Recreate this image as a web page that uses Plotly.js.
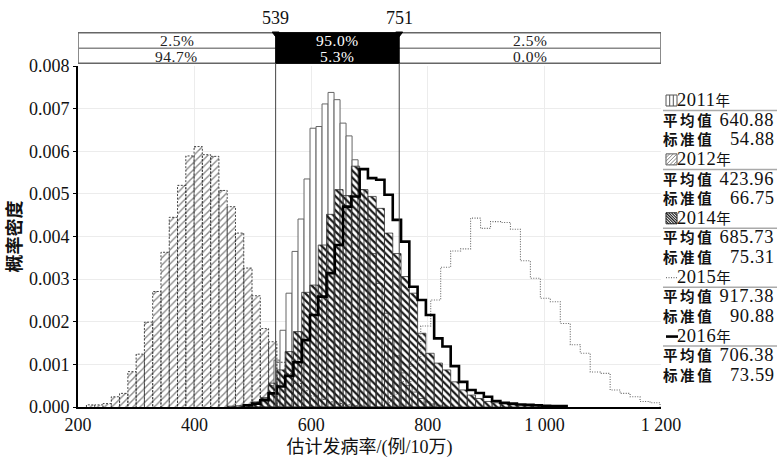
<!DOCTYPE html>
<html><head><meta charset="utf-8">
<script src="https://cdn.plot.ly/plotly-3.0.1.min.js"></script>
<style>html,body{margin:0;padding:0;background:#fff}</style>
</head><body><div id="chart" style="width:779px;height:461px"></div>
<script>
// ---------------- DATA ----------------
const binStart2012 = 214.5, binWidth2012 = 14.2;
const dens2012 = [0.00005,0.00005,0.00008,0.00024,0.00032,0.00083,0.00124,0.00199,0.00271,0.00363,
  0.00445,0.00520,0.00589,0.00611,0.00592,0.00588,0.00508,0.00470,0.00408,0.00326,
  0.00261,0.00184,0.00153,0.00105,0.00078,0.00055,0.00038,0.00026,0.00018,0.00012,
  0.00008,0.00005,0.00003,0.00002];

const binStart2014 = 455.9, binWidth2014 = 14.2;
const dens2014 = [0.00002,0.00003,0.00006,0.00012,0.00022,0.00056,0.00087,0.00130,0.00177,0.00269,
  0.00286,0.00380,0.00452,0.00510,0.00496,0.00565,0.00510,0.00494,0.00466,0.00408,
  0.00360,0.00306,0.00267,0.00173,0.00126,0.00103,0.00087,0.00059,0.00040,0.00028,
  0.00020,0.00013,0.00010,0.00007,0.00005,0.00005,0.00004,0.00003,0.00003,0.00002,0.00002];

const binStart2016 = 484.3, binWidth2016 = 14.2;
const dens2016 = [0.00004,0.00008,0.00016,0.00032,0.00048,0.00073,0.00105,0.00157,0.00216,0.00259,
  0.00314,0.00380,0.00470,0.00494,0.00558,0.00537,0.00533,0.00498,0.00439,0.00388,
  0.00282,0.00251,0.00216,0.00161,0.00142,0.00096,0.00059,0.00040,0.00033,0.00024,
  0.00014,0.00010,0.00008,0.00006,0.00005,0.00004,0.00003,0.00002,0.00002];

const binStart2011 = 495.0, binWidth2011 = 10.3;
const dens2011 = [0.00005,0.00010,0.00020,0.00050,0.00110,0.00180,0.00267,0.00365,0.00441,0.00535,
  0.00654,0.00658,0.00711,0.00738,0.00721,0.00666,0.00636,0.00580,0.00510,0.00440,
  0.00360,0.00290,0.00220,0.00160,0.00120,0.00080,0.00050,0.00035,0.00020,0.00012,
  0.00007,0.00004,0.00002];

const binStart2015 = 719.5, binWidth2015 = 17.1;
const dens2015 = [0.00010,0.00030,0.00060,0.00110,0.00190,0.00251,0.00328,0.00366,0.00371,0.00443,
  0.00419,0.00435,0.00433,0.00417,0.00343,0.00302,0.00255,0.00247,0.00196,0.00146,
  0.00126,0.00082,0.00079,0.00040,0.00032,0.00024,0.00013,0.00010];

const legendYears = ["2011年","2012年","2014年","2015年","2016年"];
const legendMeans = [640.88, 423.96, 685.73, 917.38, 706.38];
const legendSDs   = [54.88, 66.75, 75.31, 90.88, 73.59];
const meanLabel = "平均值", sdLabel = "标准值";

const delimiters = [539, 751];
const bandTop = ["2.5%","95.0%","2.5%"];
const bandBottom = ["94.7%","5.3%","0.0%"];

const xTickVals = [200,400,600,800,1000,1200];
const xTickText = ["200","400","600","800","1 000","1 200"];
const yTickVals = [0,0.001,0.002,0.003,0.004,0.005,0.006,0.007,0.008];
const xRange = [200,1200];
const yRange = [0,0.008];

// ---------------- LAYOUT HELPERS ----------------
const W=779, H=461;
const M={l:78, r:118, t:66, b:54};
const PW=W-M.l-M.r, PH=H-M.t-M.b;
const pxX = px => (px-M.l)/PW;
const pxY = py => (H-M.b-py)/PH;
const serif = "Liberation Serif, Times New Roman, serif";
const cjk = "Noto Sans CJK SC, sans-serif";
const mixed = "Liberation Serif, Noto Sans CJK SC, serif";

function centers(start,w,vals){return vals.map((_,i)=>start+w*(i+0.5));}
function stepXY(start,w,vals){
  const xs=[start], ys=[0];
  vals.forEach((v,i)=>{xs.push(start+w*i); ys.push(v);});
  xs.push(start+w*vals.length); ys.push(vals[vals.length-1]);
  xs.push(start+w*vals.length); ys.push(0);
  return {xs,ys};
}
function outlineXY(start,w,vals){
  const xs=[], ys=[];
  vals.forEach((v,i)=>{const l=start+w*i, r=l+w; xs.push(l,l,r,r); ys.push(0,v,v,0);});
  return {xs,ys};
}

const traces=[];
traces.push({type:'bar', x:centers(binStart2012,binWidth2012,dens2012), y:dens2012, width:binWidth2012,
  marker:{color:'white', line:{width:0},
    pattern:{shape:'/', fgcolor:'#8a8a8a', bgcolor:'white', size:5, solidity:0.28, fillmode:'replace'}},
  showlegend:false, hoverinfo:'skip'});
traces.push({type:'bar', x:centers(binStart2011,binWidth2011,dens2011), y:dens2011, width:binWidth2011,
  marker:{color:'rgba(255,255,255,0.9)', line:{color:'#666', width:1}},
  showlegend:false, hoverinfo:'skip'});
traces.push({type:'bar', x:centers(binStart2014,binWidth2014,dens2014), y:dens2014, width:binWidth2014,
  marker:{color:'rgba(0,0,0,0)', line:{color:'#333', width:0.8},
    pattern:{shape:'\\', fgcolor:'#1a1a1a', bgcolor:'rgba(255,255,255,0)', size:5, solidity:0.45, fillmode:'replace'}},
  showlegend:false, hoverinfo:'skip'});
const o12=outlineXY(binStart2012,binWidth2012,dens2012);
traces.push({type:'scatter', mode:'lines', x:o12.xs, y:o12.ys,
  line:{color:'#333', width:0.9, dash:'2px,1.5px'}, showlegend:false, hoverinfo:'skip'});
const s15=stepXY(binStart2015,binWidth2015,dens2015);
traces.push({type:'scatter', mode:'lines', x:s15.xs, y:s15.ys, line:{color:'#666', width:1.1, dash:'1px,1.5px', shape:'hv'},
  showlegend:false, hoverinfo:'skip'});
const s16=stepXY(binStart2016,binWidth2016,dens2016);
traces.push({type:'scatter', mode:'lines', x:s16.xs, y:s16.ys, line:{color:'#000', width:2.6, shape:'hv'},
  showlegend:false, hoverinfo:'skip'});

// ---------------- BAND / SHAPES ----------------
const shapes=[], annotations=[];
const bTop=pxY(32.7), bMid=pxY(48.3), bBot=pxY(63.3);
shapes.push({type:'rect', xref:'x', yref:'paper', x0:xRange[0], x1:xRange[1], y0:bBot, y1:bTop,
  fillcolor:'white', line:{color:'#666', width:1.5}, layer:'above'});
shapes.push({type:'line', xref:'x', yref:'paper', x0:xRange[0], x1:xRange[1], y0:bMid, y1:bMid,
  line:{color:'#888', width:1.5}, layer:'above'});
shapes.push({type:'rect', xref:'x', yref:'paper', x0:delimiters[0], x1:delimiters[1], y0:bBot, y1:bTop,
  fillcolor:'black', line:{color:'black', width:1}, layer:'above'});
delimiters.forEach(d=>{
  shapes.push({type:'line', xref:'x', yref:'paper', x0:d, x1:d, y0:0, y1:bBot, line:{color:'#444', width:1}, layer:'above'});
  const hw=3.5/PW*(xRange[1]-xRange[0]), th=4/PH;
  shapes.push({type:'path', xref:'x', yref:'paper', path:`M ${d-hw} ${bTop+0.002} L ${d+hw} ${bTop+0.002} L ${d} ${bTop-th} Z`,
    fillcolor:'black', line:{color:'black', width:1}, layer:'above'});
  annotations.push({xref:'x', yref:'paper', x:d, y:pxY(18), text:String(d), showarrow:false,
    font:{family:serif, size:18, color:'#111'}, xanchor:'center', yanchor:'middle'});
});
const segs=[[xRange[0],delimiters[0]],[delimiters[0],delimiters[1]],[delimiters[1],xRange[1]]];
const bandTxt = t => `<span style="letter-spacing:0.5px">${t}</span>`;
segs.forEach((s,i)=>{
  const col = i===1 ? 'white' : '#222';
  annotations.push({xref:'x', yref:'paper', x:(s[0]+s[1])/2, y:pxY(40.0), text:bandTxt(bandTop[i]), showarrow:false,
    font:{family:serif, size:15.5, color:col}, xanchor:'center', yanchor:'middle', borderpad:0});
  annotations.push({xref:'x', yref:'paper', x:(s[0]+s[1])/2, y:pxY(56.3), text:bandTxt(bandBottom[i]), showarrow:false,
    font:{family:serif, size:15.5, color:col}, xanchor:'center', yanchor:'middle', borderpad:0});
});

// ---------------- LEGEND (one multi-line text block) ----------------
function pline(x0,y0,x1,y1,color,width,dash){
  shapes.push({type:'line', xref:'paper', yref:'paper', x0:pxX(x0), x1:pxX(x1), y0:pxY(y0), y1:pxY(y1),
    line:{color:color, width:width, dash:dash||'solid'}});
}
function prect(x0,y0,x1,y1,color){
  shapes.push({type:'rect', xref:'paper', yref:'paper', x0:pxX(x0), x1:pxX(x1), y0:pxY(y1), y1:pxY(y0),
    line:{color:color, width:1}, fillcolor:'white'});
}
const LF = 15.1;             // base font -> line pitch 1.3*LF
const pitch = 1.3*LF;
const firstY = 100;
const cj = t => `<span style="font-family:Noto Sans CJK SC;font-size:14.5px;font-weight:bold;letter-spacing:2.6px">${t}</span>`;
const num = t => `<span style="font-size:18.5px;letter-spacing:0.6px">${t}</span>`;
const lines=[];
legendYears.forEach((yr,i)=>{
  const by = firstY + 3*pitch*i;
  const ix0=666, ix1=677, iy0=by-5, iy1=by+6;
  if(i===0){
    prect(ix0,iy0,ix1,iy1,'#555');
    pline(ix0+3.7,iy0,ix0+3.7,iy1,'#555',1); pline(ix0+7.3,iy0,ix0+7.3,iy1,'#555',1);
  } else if(i===1){
    prect(ix0,iy0,ix1,iy1,'#555');
    [3.7,7.3].forEach(c=>{ pline(ix0,iy0+c,ix0+c,iy0,'#777',0.9); pline(ix0+c,iy1,ix1,iy0+c,'#777',0.9); });
    pline(ix0,iy1,ix1,iy0,'#777',0.9);
  } else if(i===2){
    prect(ix0,iy0,ix1,iy1,'#222');
    [0,2.75,5.5,8.25].forEach(o=>{ pline(ix0+o,iy0,ix1,iy1-o,'#222',1.1); pline(ix0,iy0+o,ix1-o,iy1,'#222',1.1); });
  } else if(i===3){
    pline(666,by+1,678,by+1,'#777',1.2,'1px,1.5px');
  } else {
    pline(666,by+1,678,by+1,'#000',2.6);
  }
  pline(663,by+10.5,777,by+10.5,'#aaa',1.5);
  const m = legendMeans[i].toFixed(2), s = legendSDs[i].toFixed(2);
  lines.push(`<span style="font-size:18.5px">   </span>${num(yr.replace('年',''))}<span style="font-family:Noto Sans CJK SC;font-size:14.5px">年</span>`);
  lines.push(`${cj(meanLabel)}${num(' '.repeat(1+2*(6-m.length))+m)}`);
  lines.push(`${cj(sdLabel)}${num(' '.repeat(1+2*(6-s.length))+s)}`);
});
annotations.push({xref:'paper', yref:'paper', x:pxX(662), y:pxY(firstY + pitch*(lines.length-1)/2),
  text:lines.join('<br>'), showarrow:false, align:'left', xanchor:'left', yanchor:'middle', borderpad:0,
  font:{family:serif, size:LF, color:'#111'}});

const layout={
  width:W, height:H, margin:M, paper_bgcolor:'white', plot_bgcolor:'white',
  barmode:'overlay', bargap:0, showlegend:false,
  xaxis:{range:xRange, tickvals:xTickVals, ticktext:xTickText, showgrid:true, gridcolor:'#ececec', gridwidth:1,
    zeroline:false, showline:true, linecolor:'#000', linewidth:2, ticks:'', 
    tickfont:{family:serif, size:18, color:'#111'},
    title:{text:'估计发病率/(例/10万)', font:{family:mixed, size:18, color:'#111'}, standoff:7}},
  yaxis:{range:yRange, tickvals:yTickVals, tickformat:'.3f', showgrid:true, gridcolor:'#ececec', gridwidth:1,
    zeroline:false, showline:true, linecolor:'#000', linewidth:2, ticks:'outside', ticklen:3, tickcolor:'#000',
    tickfont:{family:serif, size:18, color:'#111'},
    title:{text:'概率密度', font:{family:cjk, size:18, color:'#111', weight:'bold'}, standoff:5}},
  shapes:shapes, annotations:annotations
};
Plotly.newPlot('chart', traces, layout, {displayModeBar:false, staticPlot:true});
</script></body></html>
